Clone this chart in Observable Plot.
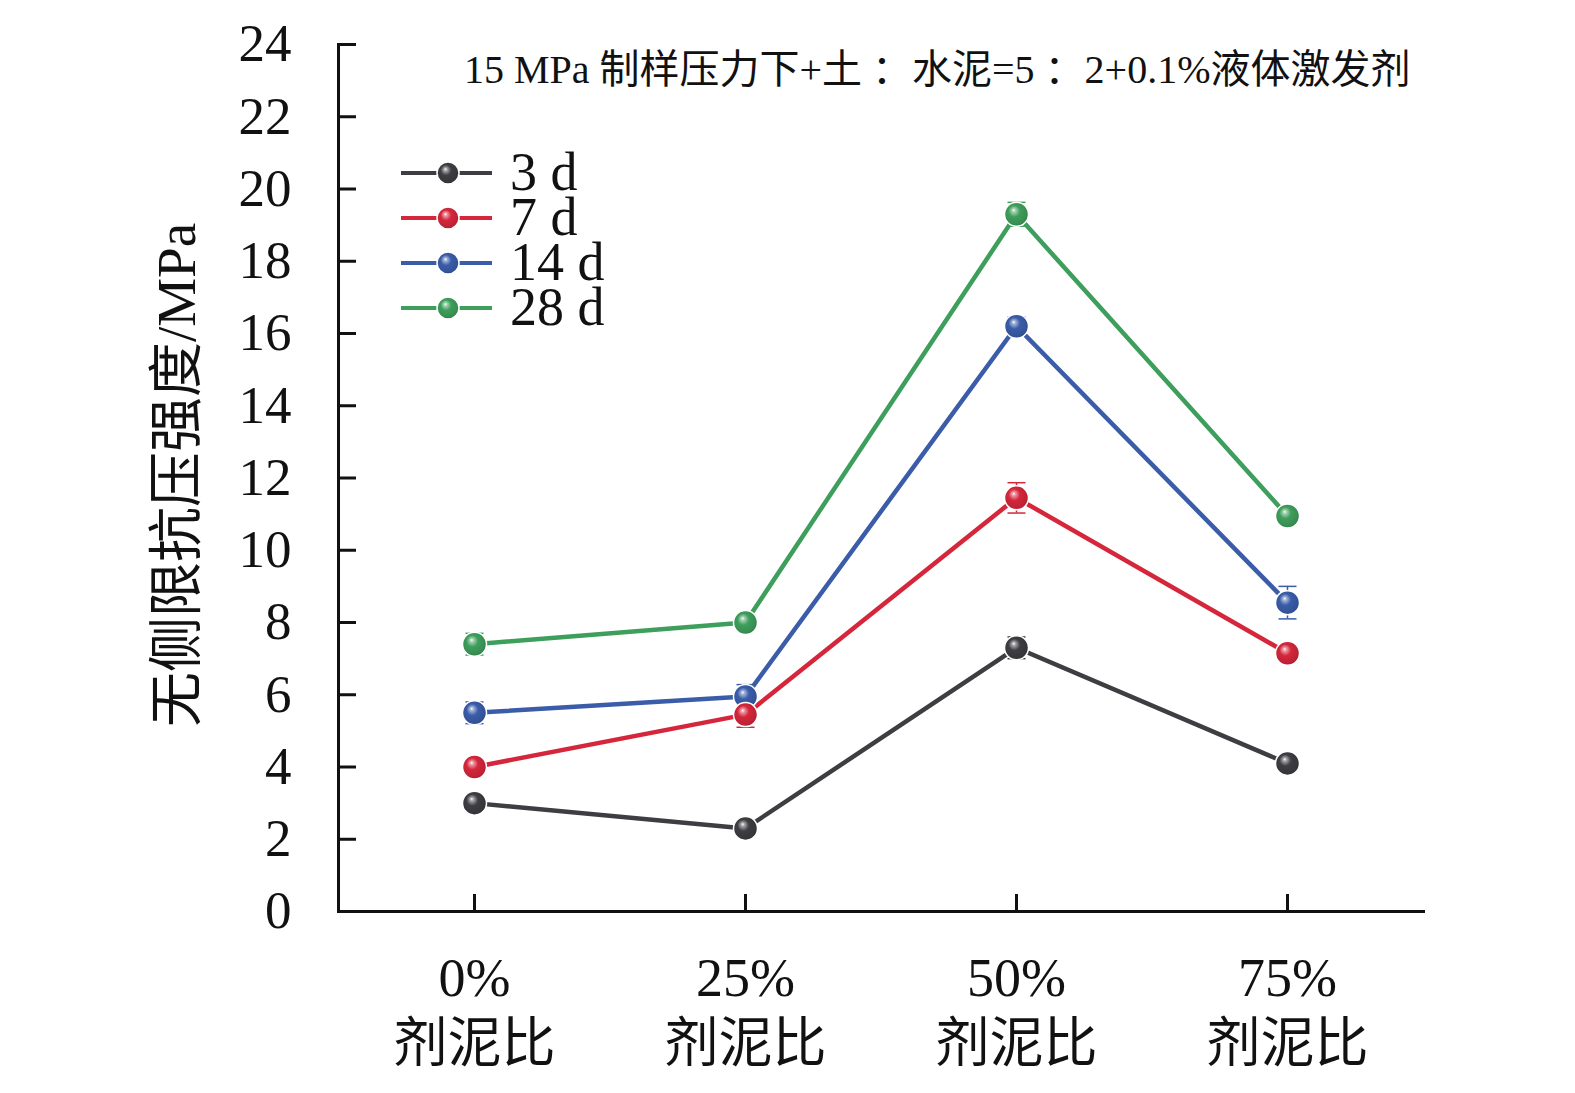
<!DOCTYPE html>
<html><head><meta charset="utf-8">
<script src="https://cdn.jsdelivr.net/npm/d3@7"></script>
<script src="https://cdn.jsdelivr.net/npm/@observablehq/plot@0.6"></script>
<style>body{margin:0;background:#fff}</style>
</head><body><div id="chart"></div>
<script>
const categories = ["0%", "25%", "50%", "75%"];
const categoryLabel = "剂泥比";
const seriesNames = ["3 d", "7 d", "14 d", "28 d"];
const seriesColors = ["#3d3d42", "#d5263b", "#3a5ca9", "#3e9e5b"];
const values3d = [3.0, 2.3, 7.3, 4.1];
const values7d = [4.0, 5.45, 11.45, 7.15];
const values14d = [5.5, 5.95, 16.2, 8.55];
const values28d = [7.4, 8.0, 19.3, 10.95];
const err3d = [0.1, 0.1, 0.3, 0.1];
const err7d = [0.1, 0.35, 0.42, 0.17];
const err14d = [0.3, 0.33, 0.25, 0.45];
const err28d = [0.3, 0.15, 0.33, 0.1];
const yTicks = [0, 2, 4, 6, 8, 10, 12, 14, 16, 18, 20, 22, 24];
const titleText = "15 MPa 制样压力下+土 ：水泥=5 ：2+0.1%液体激发剂";
const yLabel = "无侧限抗压强度/MPa";

const allValues = [values3d, values7d, values14d, values28d];
const allErrors = [err3d, err7d, err14d, err28d];
const rows = [];
allValues.forEach((vals, s) => vals.forEach((v, i) => rows.push({
  series: seriesNames[s], s, cat: categories[i], value: v, err: allErrors[s][i]
})));

const FONT = "'Liberation Serif','Noto Sans CJK SC',serif";
const capSymbol = {draw(ctx, size) { const r = Math.sqrt(size / Math.PI); ctx.moveTo(-r, 0); ctx.lineTo(r, 0); }};

const seriesMarks = [];
// error bars
seriesNames.forEach((name, s) => {
  const d = rows.filter(r => r.s === s);
  seriesMarks.push(
    Plot.ruleX(d, {x: "cat", y1: r => r.value - r.err, y2: r => r.value + r.err, stroke: seriesColors[s], strokeWidth: 1.5}),
    Plot.dot(d, {x: "cat", y: r => r.value + r.err, symbol: capSymbol, r: 9, stroke: seriesColors[s], strokeWidth: 1.5, fill: "none"}),
    Plot.dot(d, {x: "cat", y: r => r.value - r.err, symbol: capSymbol, r: 9, stroke: seriesColors[s], strokeWidth: 1.5, fill: "none"})
  );
});
// lines
seriesNames.forEach((name, s) => {
  const d = rows.filter(r => r.s === s);
  seriesMarks.push(Plot.line(d, {x: "cat", y: "value", stroke: seriesColors[s], strokeWidth: 4.5}));
});
// dots (reverse order)
[3, 2, 1, 0].forEach(s => {
  const d = rows.filter(r => r.s === s);
  seriesMarks.push(Plot.dot(d, {x: "cat", y: "value", r: 12, fill: `url(#sphere${s})`, stroke: "white", strokeWidth: 1.5}));
});

const plot = Plot.plot({
  width: 1575, height: 1093,
  marginLeft: 338, marginRight: 152, marginTop: 44, marginBottom: 182,
  style: {fontFamily: FONT, background: "#fff", color: "#111"},
  x: {type: "point", domain: categories, padding: 0.5, label: null},
  y: {domain: [0, 24], label: null},
  marks: [
    Plot.axisY(yTicks, {tickSize: -18, strokeWidth: 3, fill: "none", label: null}),
    Plot.axisY(yTicks, {tickSize: 0, tickPadding: 47, fontSize: 53, fill: "#111", label: null}),
    Plot.axisX({tickSize: -17, strokeWidth: 3, fill: "none", label: null}),
    Plot.axisX({tickSize: 0, tickPadding: 38, fontSize: 54, lineHeight: 1.22, fill: "#111", label: null,
      tickFormat: d => d + "\n" + categoryLabel}),
    Plot.frame({anchor: "left", strokeWidth: 3, stroke: "#111"}),
    Plot.frame({anchor: "bottom", strokeWidth: 3, stroke: "#111"}),
    Plot.text([yLabel], {frameAnchor: "left", rotate: -90, dx: -161, dy: -3, fontSize: 55, fill: "#111", textAnchor: "middle", lineAnchor: "middle"}),
    Plot.text([titleText], {frameAnchor: "top-right", dx: -13, dy: 26, fontSize: 40, fill: "#111", textAnchor: "end", lineAnchor: "middle"}),
    ...seriesMarks
  ]
});

const svg = d3.select(plot);
const defs = svg.insert("defs", ":first-child");
seriesColors.forEach((c, s) => {
  const g = defs.append("radialGradient").attr("id", `sphere${s}`)
    .attr("cx", "0.45").attr("cy", "0.45").attr("r", "0.6").attr("fx", "0.38").attr("fy", "0.32");
  const base = d3.color(c);
  [[0, "#ffffff"], [0.12, d3.interpolateRgb(c, "#ffffff")(0.55)], [0.4, c], [0.8, base.darker(0.3).formatHex()], [1, base.darker(0.8).formatHex()]]
    .forEach(([o, col]) => g.append("stop").attr("offset", o).attr("stop-color", col));
});

// legend
const leg = svg.append("g").attr("class", "legend").attr("text-anchor", "start");
const legY = [173, 218, 263, 308];
seriesNames.forEach((name, s) => {
  const y = legY[s];
  leg.append("line").attr("x1", 401).attr("x2", 492).attr("y1", y).attr("y2", y)
    .attr("stroke", seriesColors[s]).attr("stroke-width", 4);
  leg.append("circle").attr("cx", 448).attr("cy", y).attr("r", 11)
    .attr("fill", `url(#sphere${s})`).attr("stroke", "white").attr("stroke-width", 1.5);
  leg.append("text").attr("x", 510).attr("y", y + 17).attr("font-size", 54)
    .attr("text-anchor", "start")
    .attr("font-family", FONT).attr("fill", "#111").text(name);
});

document.getElementById("chart").appendChild(plot);
</script>
</body></html>
